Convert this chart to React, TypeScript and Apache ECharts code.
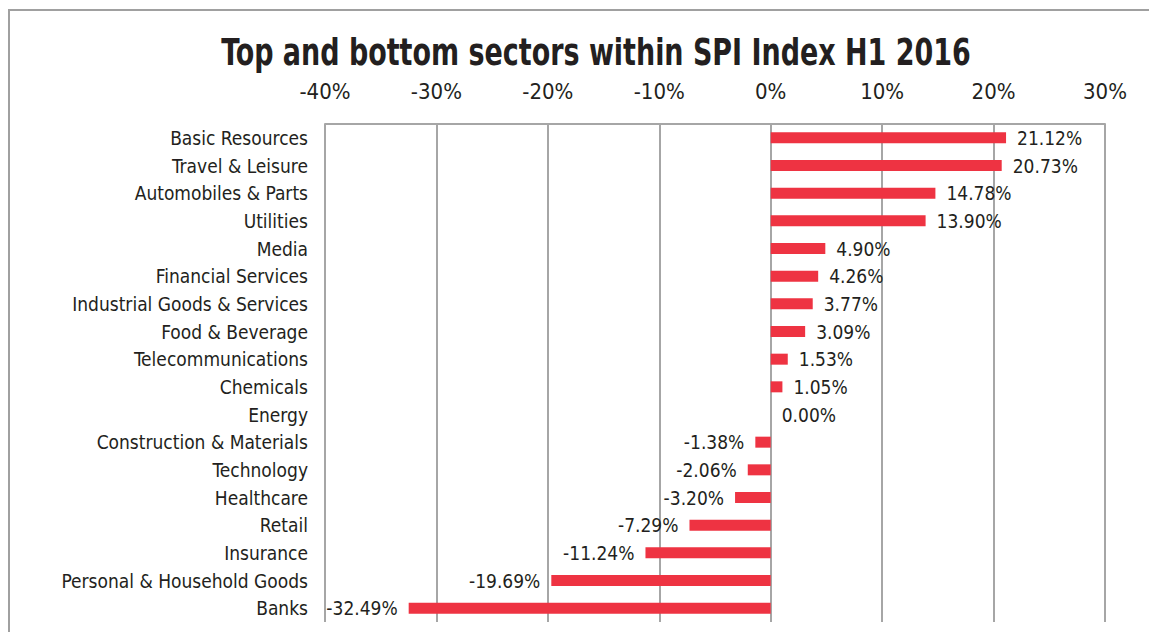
import React, { useEffect, useRef } from "react";
import * as echarts from "echarts";

const categories = [
  "Basic Resources",
  "Travel & Leisure",
  "Automobiles & Parts",
  "Utilities",
  "Media",
  "Financial Services",
  "Industrial Goods & Services",
  "Food & Beverage",
  "Telecommunications",
  "Chemicals",
  "Energy",
  "Construction & Materials",
  "Technology",
  "Healthcare",
  "Retail",
  "Insurance",
  "Personal & Household Goods",
  "Banks",
];
const values = [
  21.12, 20.73, 14.78, 13.9, 4.9, 4.26, 3.77, 3.09, 1.53, 1.05, 0.0, -1.38, -2.06, -3.2, -7.29,
  -11.24, -19.69, -32.49,
];
const tickMin = -40;
const tickMax = 30;
const tickStep = 10;
const titleText = "Top and bottom sectors within SPI Index H1 2016";

const FONT = "'Liberation Sans Narrow', 'DejaVu Sans Condensed', 'Roboto', sans-serif";
const TEXT = "#231f20";
const GRID = "#a6a6a6";
const RED = "#ee3342";

export default function App() {
  const ref = useRef<HTMLDivElement>(null);
  useEffect(() => {
    if (!ref.current) return;
    const chart = echarts.init(ref.current, null, { renderer: "svg" });
    chart.setOption({
      animation: false,
      backgroundColor: "#ffffff",
      graphic: [
        {
          type: "rect",
          shape: { x: 9, y: 10, width: 1300, height: 800 },
          style: { fill: "none", stroke: "#a0a0a0", lineWidth: 2 },
          silent: true,
        },
        {
          type: "text",
          x: 596,
          y: 52,
          scaleX: 0.81,
          style: {
            text: titleText,
            fontFamily: FONT,
            fontWeight: "bold",
            fontSize: 37,
            fill: TEXT,
            textAlign: "center",
            textVerticalAlign: "middle",
          },
          silent: true,
        },
      ],
      grid: { left: 325, right: 44, top: 124, height: 498, containLabel: false },
      xAxis: {
        type: "value",
        position: "top",
        min: tickMin,
        max: tickMax,
        interval: tickStep,
        axisLine: { show: true, lineStyle: { color: GRID, width: 2 } },
        axisTick: { show: false },
        splitLine: { show: true, lineStyle: { color: GRID, width: 2 } },
        axisLabel: {
          formatter: (v: number) => `${v}%`,
          fontFamily: FONT,
          fontSize: 22,
          color: TEXT,
          margin: 22,
        },
      },
      yAxis: {
        type: "category",
        inverse: true,
        data: categories,
        axisLine: { show: false },
        axisTick: { show: false },
        axisLabel: { fontFamily: FONT, fontSize: 19, color: TEXT, margin: 17 },
      },
      series: [
        {
          type: "bar",
          data: values.map((v) => ({
            value: v,
            label: {
              show: true,
              position: v < 0 ? "left" : "right",
              distance: 11,
              formatter: `${v.toFixed(2)}%`,
              fontFamily: FONT,
              fontSize: 19,
              color: TEXT,
            },
          })),
          barWidth: 11,
          itemStyle: { color: RED },
        },
      ],
    });
    return () => chart.dispose();
  }, []);
  return (
    <div
      ref={ref}
      style={{ position: "fixed", left: 0, top: 0, width: 1149, height: 632 }}
    />
  );
}
